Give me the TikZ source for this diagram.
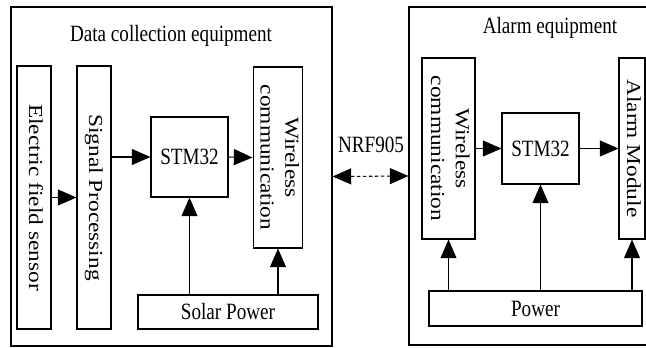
\documentclass[tikz,border=0pt]{standalone}
\usepackage{fontspec}
\setmainfont{Liberation Serif}[FakeStretch=0.82]
\newfontfamily\uprightfont{Liberation Serif}
\usepackage{graphicx}
\usetikzlibrary{arrows.meta}
% vertical label, read from top to bottom
\newcommand{\sidetext}[1]{\rotatebox{-90}{\scalebox{1}[0.85]{\uprightfont\begin{tabular}{@{}c@{}}#1\end{tabular}}}}

\begin{document}
\begin{tikzpicture}[
    x=0.75pt, y=-0.75pt,
    font=\fontsize{17.5pt}{22pt}\selectfont,
    unit/.style={draw, line width=0.8pt, inner sep=0pt},
    frame/.style={draw, line width=0.8pt, inner sep=0pt},
    flow/.style={-{Triangle[length=14pt,width=12pt]}, line width=0.8pt}
]
    \clip (0,0) rectangle (646,347);
    % --- Frames ---
    \node[frame, minimum width=240.75pt, minimum height=254.25pt] (dc) at (171.5,176.5) {};
    \node[frame, minimum width=184.5pt, minimum height=253.5pt] (al) at (532,176) {};
    \node[anchor=base] (dctitle) at (171,41) {Data collection equipment};
    \node[anchor=base] (altitle) at (550,33) {Alarm equipment};

    % --- Data collection (left) ---
    \node[unit, minimum width=25.5pt, minimum height=197.25pt] (sensor) at (34,197.5) {\sidetext{Electric field sensor}};
    \node[unit, minimum width=25.5pt, minimum height=197.25pt] (sigproc) at (94,197.5) {\sidetext{Signal Processing}};
    \node[unit, minimum width=57.75pt, minimum height=60pt] (stmA) at (189.5,157) {STM32};
    \node[unit, minimum width=36pt, minimum height=135.75pt] (wlA) at (278,157.5) {\sidetext{Wireless\\communication}};
    \node[unit, minimum width=135pt, minimum height=25.5pt] (solar) at (228,312) {Solar Power};

    \draw[flow] (sensor.east) -- (sigproc.west);
    \draw[flow] (sigproc.east |- stmA.west) -- (stmA.west);
    \draw[flow] (stmA.east) -- (wlA.west);
    \draw[flow] (solar.north -| stmA.south) -- (stmA.south);
    \draw[flow] (solar.north -| wlA.south) -- (wlA.south);

    % --- Link ---
    \node[anchor=base] (nrf) at (371,152) {NRF905};
    \draw[{Triangle[length=14pt,width=12pt]}-{Triangle[length=14pt,width=12pt]}, line width=0.8pt, dash pattern=on 2.5pt off 2pt] (dc.east) -- (al.west);

    % --- Alarm (right) ---
    \node[unit, minimum width=39.75pt, minimum height=135.75pt] (wlB) at (448.5,148.5) {\sidetext{Wireless\\communication}};
    \node[unit, minimum width=57.75pt, minimum height=53.25pt] (stmB) at (540.5,148.5) {STM32};
    \node[unit, minimum width=19.5pt, minimum height=135.75pt] (alarm) at (632,148.5) {\sidetext{Alarm Module}};
    \node[unit, minimum width=159.75pt, minimum height=26.25pt] (power) at (535.5,308.5) {Power};

    \draw[flow] (wlB.east) -- (stmB.west);
    \draw[flow] (stmB.east) -- (alarm.west);
    \draw[flow] (power.north -| wlB.south) -- (wlB.south);
    \draw[flow] (power.north -| stmB.south) -- (stmB.south);
    \draw[flow] (power.north -| alarm.south) -- (alarm.south);
\end{tikzpicture}
\end{document}
